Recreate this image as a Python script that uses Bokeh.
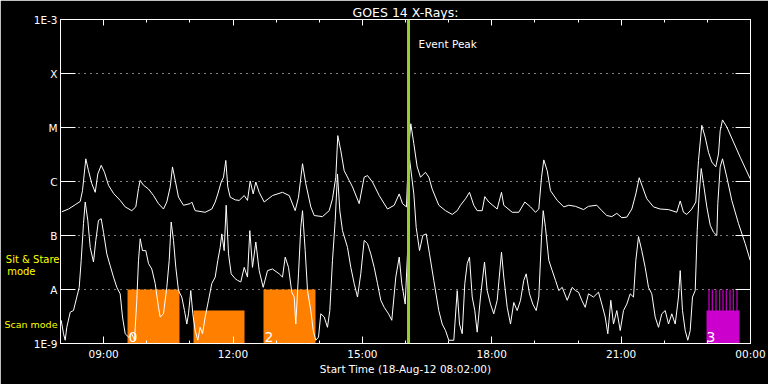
from bokeh.plotting import figure
from bokeh.models import (Range1d, FixedTicker, LinearAxis, LogAxis, Label, Span,
                          ColumnDataSource, CustomLabelingPolicy)
from bokeh.core.properties import value
from bokeh.embed import file_html
from bokeh.resources import INLINE

FONT = "DejaVu Sans"

# ---- axis definitions (hours after 08:00 on 18-Aug-12) ----
hour_ticks = [1, 4, 7, 10, 13, 16]
hour_labels = ["09:00", "12:00", "15:00", "18:00", "21:00", "00:00"]
hour_minor = list(range(0, 17))

level_values = [1e-9, 1e-8, 1e-7, 1e-6, 1e-5, 1e-4, 1e-3]
level_labels = ["1E-9", "A", "B", "C", "M", "X", "1E-3"]

# ---- GOES 14 long channel (1-8 A), log10 flux ----
long_t = [0.030, 0.186, 0.341, 0.457, 0.510, 0.587, 0.649, 0.726, 0.805, 0.865,
          0.944, 1.020, 1.113, 1.229, 1.384, 1.500, 1.653, 1.746, 1.809, 1.848,
          1.925, 2.041, 2.157, 2.272, 2.388, 2.465, 2.544, 2.597, 2.660, 2.736,
          2.852, 3.008, 3.045, 3.123, 3.355, 3.508, 3.587, 3.648, 3.726, 3.780,
          3.833, 3.879, 3.935, 4.051, 4.144, 4.260, 4.336, 4.399, 4.468, 4.529,
          4.607, 4.723, 4.916, 5.148, 5.303, 5.442, 5.519, 5.612, 5.688, 5.804,
          5.883, 6.075, 6.231, 6.307, 6.384, 6.430, 6.500, 6.578, 6.694, 6.771,
          6.926, 7.042, 7.119, 7.235, 7.390, 7.583, 7.738, 7.854, 7.930, 8.023,
          8.070, 8.123, 8.193, 8.271, 8.348, 8.464, 8.541, 8.619, 8.772, 8.928,
          9.083, 9.199, 9.275, 9.391, 9.484, 9.584, 9.662, 9.778, 9.839, 9.932,
          10.126, 10.226, 10.279, 10.474, 10.627, 10.767, 10.899, 11.014, 11.091, 11.154,
          11.207, 11.286, 11.362, 11.518, 11.671, 11.787, 11.942, 12.128, 12.243, 12.436,
          12.552, 12.668, 12.784, 12.900, 13.016, 13.132, 13.248, 13.341, 13.419, 13.496,
          13.595, 13.751, 13.906, 14.099, 14.291, 14.370, 14.446, 14.523, 14.639, 14.732,
          14.794, 14.871, 14.949, 15.026, 15.103, 15.195, 15.258, 15.297, 15.351, 15.451,
          15.606, 15.761, 15.993]
long_log = [-6.56, -6.51, -6.43, -6.37, -6.17, -5.58, -5.80, -6.04, -6.20, -5.86,
            -5.70, -5.83, -6.07, -6.22, -6.35, -6.47, -6.54, -6.47, -6.13, -5.98,
            -6.07, -6.14, -6.26, -6.41, -6.51, -6.38, -6.10, -5.73, -5.98, -6.29,
            -6.44, -6.41, -6.38, -6.54, -6.57, -6.51, -6.38, -6.23, -6.01, -5.92,
            -5.61, -6.10, -6.29, -6.34, -6.35, -6.26, -6.35, -5.99, -6.23, -6.01,
            -6.20, -6.38, -6.26, -6.20, -6.26, -6.54, -6.29, -5.67, -6.04, -6.47,
            -6.63, -6.65, -6.54, -6.32, -5.92, -5.15, -5.43, -5.80, -5.98, -6.10,
            -6.41, -5.92, -5.89, -6.01, -6.26, -6.51, -6.44, -6.23, -6.41, -6.47,
            -5.43, -4.93, -5.30, -5.73, -5.92, -5.83, -5.92, -6.14, -6.44, -6.54,
            -6.61, -6.54, -6.44, -6.32, -6.20, -6.44, -6.54, -6.54, -6.28, -6.38,
            -6.51, -6.20, -6.44, -6.57, -6.57, -6.38, -6.47, -6.57, -6.51, -5.92,
            -5.60, -5.80, -6.17, -6.35, -6.47, -6.44, -6.46, -6.52, -6.46, -6.44,
            -6.54, -6.63, -6.65, -6.59, -6.67, -6.66, -6.51, -6.23, -5.93, -6.10,
            -6.32, -6.47, -6.51, -6.52, -6.57, -6.36, -6.57, -6.61, -6.51, -6.38,
            -5.61, -4.96, -5.18, -5.46, -5.64, -5.73, -5.49, -5.06, -4.86, -4.99,
            -5.27, -5.55, -5.95]

# ---- GOES 14 short channel (0.5-4 A), log10 flux ----
short_t = [0.016, 0.070, 0.109, 0.146, 0.225, 0.301, 0.378, 0.434, 0.480, 0.533,
           0.573, 0.633, 0.689, 0.765, 0.819, 0.881, 0.944, 0.997, 1.074, 1.152,
           1.229, 1.306, 1.384, 1.438, 1.500, 1.577, 1.653, 1.716, 1.769, 1.809,
           1.848, 1.901, 1.978, 2.041, 2.117, 2.196, 2.272, 2.312, 2.388, 2.465,
           2.521, 2.567, 2.620, 2.674, 2.736, 2.813, 2.875, 2.929, 2.968, 3.021,
           3.068, 3.123, 3.184, 3.239, 3.293, 3.355, 3.432, 3.508, 3.587, 3.648,
           3.703, 3.740, 3.796, 3.842, 3.896, 3.958, 4.051, 4.104, 4.181, 4.260,
           4.336, 4.390, 4.452, 4.529, 4.607, 4.700, 4.800, 4.916, 5.071, 5.148,
           5.211, 5.287, 5.363, 5.419, 5.456, 5.519, 5.572, 5.612, 5.674, 5.728,
           5.804, 5.860, 5.920, 5.983, 6.036, 6.115, 6.191, 6.245, 6.307, 6.370,
           6.423, 6.477, 6.539, 6.655, 6.732, 6.810, 6.887, 6.963, 7.042, 7.119,
           7.195, 7.274, 7.351, 7.427, 7.506, 7.606, 7.682, 7.775, 7.854, 7.914,
           7.993, 8.046, 8.070, 8.193, 8.248, 8.325, 8.401, 8.480, 8.557, 8.656,
           8.772, 8.851, 8.928, 9.004, 9.120, 9.199, 9.252, 9.315, 9.375, 9.431,
           9.484, 9.547, 9.607, 9.662, 9.739, 9.832, 9.894, 9.971, 10.047, 10.126,
           10.226, 10.279, 10.358, 10.435, 10.511, 10.590, 10.667, 10.743, 10.799, 10.875,
           10.952, 11.031, 11.091, 11.154, 11.193, 11.246, 11.323, 11.402, 11.478, 11.555,
           11.634, 11.750, 11.865, 11.942, 12.012, 12.088, 12.167, 12.243, 12.359, 12.475,
           12.552, 12.631, 12.691, 12.761, 12.823, 12.900, 12.979, 13.055, 13.132, 13.210,
           13.287, 13.341, 13.403, 13.479, 13.558, 13.635, 13.711, 13.790, 13.867, 13.943,
           14.022, 14.099, 14.175, 14.254, 14.330, 14.370, 14.423, 14.486, 14.546, 14.602,
           14.655, 14.718, 14.764, 14.810, 14.857, 14.910, 14.987, 15.066, 15.142, 15.219,
           15.242, 15.297, 15.351, 15.451, 15.566, 15.722, 15.877, 15.993]
short_log = [-8.57, -8.82, -8.94, -8.70, -8.42, -8.39, -8.14, -7.96, -7.46, -6.78,
             -6.38, -6.72, -7.22, -7.49, -7.09, -6.72, -6.69, -6.94, -7.34, -7.56,
             -7.77, -7.96, -8.08, -8.51, -8.82, -8.88, -8.82, -8.94, -8.20, -7.46,
             -7.06, -7.28, -7.28, -7.52, -7.62, -7.89, -8.33, -8.51, -8.45, -7.96,
             -7.46, -6.75, -7.09, -7.59, -8.02, -8.14, -8.39, -8.64, -8.45, -8.02,
             -8.45, -8.76, -8.94, -8.70, -8.82, -8.51, -8.20, -7.89, -7.77, -7.46,
             -7.22, -6.97, -7.28, -6.44, -7.34, -7.71, -7.80, -7.83, -7.86, -7.59,
             -7.77, -6.91, -7.59, -7.12, -7.65, -7.96, -7.65, -7.62, -7.71, -7.77,
             -7.40, -7.59, -8.05, -8.14, -8.64, -7.71, -6.85, -6.54, -7.28, -8.02,
             -8.39, -8.76, -8.94, -8.88, -8.45, -8.51, -8.70, -8.39, -7.46, -6.72,
             -5.86, -6.54, -6.91, -7.22, -7.59, -7.89, -8.14, -7.71, -7.09, -7.15,
             -7.34, -7.59, -7.89, -8.20, -8.33, -8.45, -8.57, -7.77, -7.40, -7.89,
             -8.27, -7.34, -5.43, -6.23, -6.85, -7.28, -7.00, -6.97, -7.34, -7.83,
             -8.39, -8.64, -8.76, -8.94, -8.94, -8.02, -8.64, -8.82, -7.89, -7.52,
             -7.40, -8.14, -8.39, -8.79, -8.14, -7.49, -8.02, -8.27, -8.45, -8.20,
             -7.31, -7.77, -8.33, -8.64, -8.24, -8.39, -8.20, -7.83, -7.71, -8.08,
             -8.27, -8.39, -8.14, -7.03, -6.54, -6.85, -7.46, -7.65, -7.83, -8.02,
             -7.96, -8.20, -7.96, -8.02, -8.05, -8.20, -8.33, -8.08, -8.14, -8.05,
             -8.27, -8.51, -8.82, -8.20, -8.64, -8.39, -8.76, -8.39, -8.27, -8.08,
             -8.14, -7.46, -7.02, -7.28, -7.59, -7.96, -8.08, -8.51, -8.70, -8.45,
             -8.39, -8.64, -8.45, -8.64, -8.14, -7.65, -8.39, -8.76, -8.94, -8.76,
             -8.14, -8.02, -6.91, -6.23, -5.76, -6.04, -6.47, -6.81, -6.94, -7.00,
             -6.41, -5.73, -5.58, -5.92, -6.35, -6.78, -7.15, -7.46]

# ---- observing-mode blocks ----
mode_left = [1.554, 3.084, 4.707]
mode_right = [2.759, 4.267, 5.913]
mode_top = [1e-8, 4.1e-9, 1e-8]
mode_label = ["0", "", "2"]

mag_left = [14.980]
mag_right = [15.745]
mag_top = [4.1e-9]
mag_label = ["3"]
mag_spikes = [15.038, 15.114, 15.200, 15.286, 15.362, 15.439, 15.525, 15.601, 15.687]

event_peak = 8.07

# mode captions on the left margin: (text, vertical position, label standoff, font size)
mode_captions = [("mode", 10 ** -7.667, -5, "10px"),
                 ("Sit & Stare", 10 ** -7.444, -55, "10px"),
                 ("Scan mode", 10 ** -8.648, -55, "9.5px")]

# ---------------------------------------------------------------
p = figure(width=768, height=384, output_backend="svg", toolbar_location=None,
           y_axis_type="log", x_range=Range1d(0, 16), y_range=Range1d(1e-9, 1e-3),
           min_border_left=60, min_border_right=18, min_border_top=19,
           min_border_bottom=41, x_axis_location="below")
p.background_fill_color = "black"
p.border_fill_color = "black"
p.outline_line_color = "white"
p.xgrid.visible = False
p.ygrid.ticker = FixedTicker(ticks=level_values[1:-1])
p.ygrid.grid_line_color = "white"
p.ygrid.grid_line_dash = "1 5"
p.ygrid.grid_line_width = 1

p.title.text = "GOES 14 X-Rays:"
p.title.align = "center"
p.title.text_color = "white"
p.title.text_font = FONT
p.title.text_font_size = "12.5px"
p.title.text_font_style = "normal"
p.title.standoff = 0

hide_all = CustomLabelingPolicy(code="for (const i of indices) { indices.unset(i) }\nreturn indices")

def style_common(ax):
    ax.axis_line_color = "white"
    ax.major_tick_line_color = "white"
    ax.minor_tick_line_color = "white"
    ax.major_label_text_color = "white"
    ax.major_label_text_font = FONT
    ax.major_label_text_font_size = "10.5px"
    ax.axis_label_text_color = "white"
    ax.axis_label_text_font = FONT
    ax.axis_label_text_font_style = "normal"
    ax.axis_label_text_font_size = "10.5px"

xb = p.xaxis[0]
xb.ticker = FixedTicker(ticks=hour_ticks, minor_ticks=hour_minor)
xb.major_label_overrides = {t: l for t, l in zip(hour_ticks, hour_labels)}
style_common(xb)
xb.major_tick_in = 7
xb.major_tick_out = 0
xb.minor_tick_in = 3
xb.minor_tick_out = 0
xb.major_label_standoff = 4
xb.axis_label = "Start Time (18-Aug-12 08:02:00)"
xb.axis_label_standoff = 0

yl = p.yaxis[0]
yl.ticker = FixedTicker(ticks=level_values)
yl.major_label_overrides = {v: l for v, l in zip(level_values, level_labels)}
style_common(yl)
yl.major_tick_in = 15
yl.major_tick_out = 0
yl.minor_tick_line_color = None
yl.major_label_standoff = 3

# yellow mode captions, each as a tick-less axis stacked outside the main one
for txt, ypos, sd, fs in mode_captions:
    ax = LogAxis(ticker=FixedTicker(ticks=[ypos]))
    style_common(ax)
    ax.axis_line_color = None
    ax.major_tick_line_color = None
    ax.minor_tick_line_color = None
    ax.major_tick_in = 0
    ax.major_tick_out = 0
    ax.major_label_overrides = {ypos: txt}
    ax.major_label_text_color = "#ffff00"
    ax.major_label_text_font_size = fs
    ax.major_label_standoff = sd
    p.add_layout(ax, "left")

xt = LinearAxis(ticker=FixedTicker(ticks=hour_ticks, minor_ticks=hour_minor))
style_common(xt)
xt.major_tick_in = 6
xt.major_tick_out = 0
xt.minor_tick_in = 3
xt.minor_tick_out = 0
xt.major_label_overrides = {t: "" for t in hour_ticks}
xt.major_label_text_font_size = "1px"
xt.major_label_standoff = 0
xt.major_label_policy = hide_all
p.add_layout(xt, "above")

yr = LogAxis(ticker=FixedTicker(ticks=level_values))
style_common(yr)
yr.major_tick_in = 15
yr.major_tick_out = 0
yr.minor_tick_line_color = None
yr.major_label_overrides = {v: "" for v in level_values}
yr.major_label_text_font_size = "1px"
yr.major_label_standoff = 0
yr.major_label_policy = hide_all
p.add_layout(yr, "right")

# mode blocks
mode_src = ColumnDataSource(dict(left=mode_left, right=mode_right, top=mode_top,
                                 bottom=[1e-9] * len(mode_left), label=mode_label))
p.quad(left="left", right="right", top="top", bottom="bottom", source=mode_src,
       fill_color="#ff8000", line_color=None)
mag_src = ColumnDataSource(dict(left=mag_left, right=mag_right, top=mag_top,
                                bottom=[1e-9], label=mag_label))
p.quad(left="left", right="right", top="top", bottom="bottom", source=mag_src,
       fill_color="#cc00cc", line_color=None)
spike_src = ColumnDataSource(dict(x=mag_spikes, top=[1e-8] * len(mag_spikes),
                                  bottom=[1e-9] * len(mag_spikes)))
p.vbar(x="x", top="top", bottom="bottom", width=0.028, source=spike_src,
       fill_color="#cc00cc", line_color=None)

# curves
long_flux = [10 ** v for v in long_log]
short_flux = [10 ** v for v in short_log]
p.line(long_t, long_flux, line_color="white", line_width=1)
p.line(short_t, short_flux, line_color="white", line_width=1)

# block numbers
p.text(x="left", y="bottom", text="label", source=mode_src, text_color="#ffffff",
       text_font=value(FONT), text_font_size="14px", text_baseline="bottom",
       x_offset=1, y_offset=-2)
p.text(x="left", y="bottom", text="label", source=mag_src, text_color="#ffffff",
       text_font=value(FONT), text_font_size="14px", text_baseline="bottom",
       x_offset=0, y_offset=-2)

# event peak marker
p.add_layout(Span(location=event_peak, dimension="height", line_color="#9acd32",
                  line_width=3))
p.add_layout(Label(x=event_peak, y=1e-3, x_offset=10, y_offset=-24, text="Event Peak",
                   text_color="white", text_font=FONT, text_font_size="10.5px",
                   text_baseline="middle"))

open("out.html", "w").write(file_html(p, INLINE))
